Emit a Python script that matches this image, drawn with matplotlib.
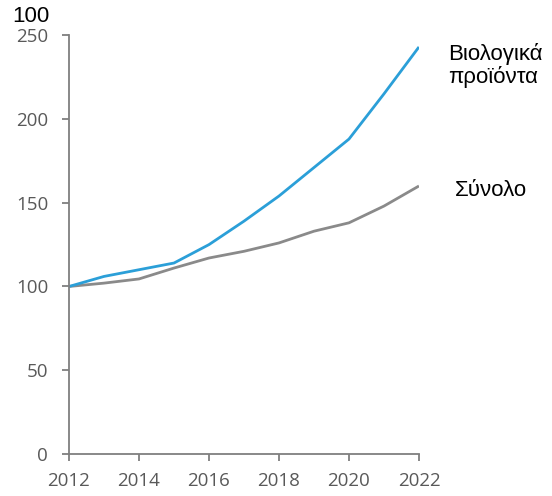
import matplotlib
matplotlib.use('Agg')
import matplotlib.pyplot as plt

# ==========================================
# DATA (index, 2012 = 100)
# ==========================================
years = [2012, 2013, 2014, 2015, 2016, 2017, 2018, 2019, 2020, 2021, 2022]
organic = [100, 106, 110, 114, 125, 139, 154, 171, 188, 215, 243]
total = [100, 102, 104.5, 111, 117, 121, 126, 133, 138, 148, 160]

x_ticks = [2012, 2014, 2016, 2018, 2020, 2022]
y_ticks = [0, 50, 100, 150, 200, 250]

BLUE = '#2b9fd8'
GREY = '#8a8a8a'
AXIS = '#7f7f7f'
TICK_TXT = '#595959'

fig = plt.figure(figsize=(5.52, 4.96), dpi=100)
ax = fig.add_axes([0.125, 0.0847, 0.634, 0.8443])

ax.plot(years, total, color=GREY, linewidth=2.0, solid_capstyle='butt')
ax.plot(years, organic, color=BLUE, linewidth=2.0, solid_capstyle='butt')

ax.set_xlim(2012, 2022)
ax.set_ylim(0, 250)
ax.set_xticks(x_ticks)
ax.set_yticks(y_ticks)

for side in ['top', 'right']:
    ax.spines[side].set_visible(False)
for side in ['left', 'bottom']:
    ax.spines[side].set_color(AXIS)
    ax.spines[side].set_linewidth(1.3)

ax.tick_params(direction='out', length=5, width=1.3, color=AXIS,
               labelcolor=TICK_TXT, labelsize=13.5)
ax.tick_params(axis='x', pad=8)
ax.tick_params(axis='y', pad=10)
for lbl in ax.get_xticklabels() + ax.get_yticklabels():
    lbl.set_fontfamily('Open Sans')

# unit label above axis
fig.text(0.022, 1 - 22 / 496, '100', fontsize=16, family='Liberation Sans',
         color='black', ha='left', va='baseline')

# series labels
fig.text(448 / 552, 1 - 60 / 496, 'Βιολογικά', fontsize=16, family='Liberation Sans',
         color='black', ha='left', va='baseline')
fig.text(448 / 552, 1 - 83 / 496, 'προϊόντα', fontsize=16, family='Liberation Sans',
         color='black', ha='left', va='baseline')
fig.text(455 / 552, 1 - 196 / 496, 'Σύνολο', fontsize=16, family='Liberation Sans',
         color='black', ha='left', va='baseline')

fig.savefig('out.png', dpi=100)
